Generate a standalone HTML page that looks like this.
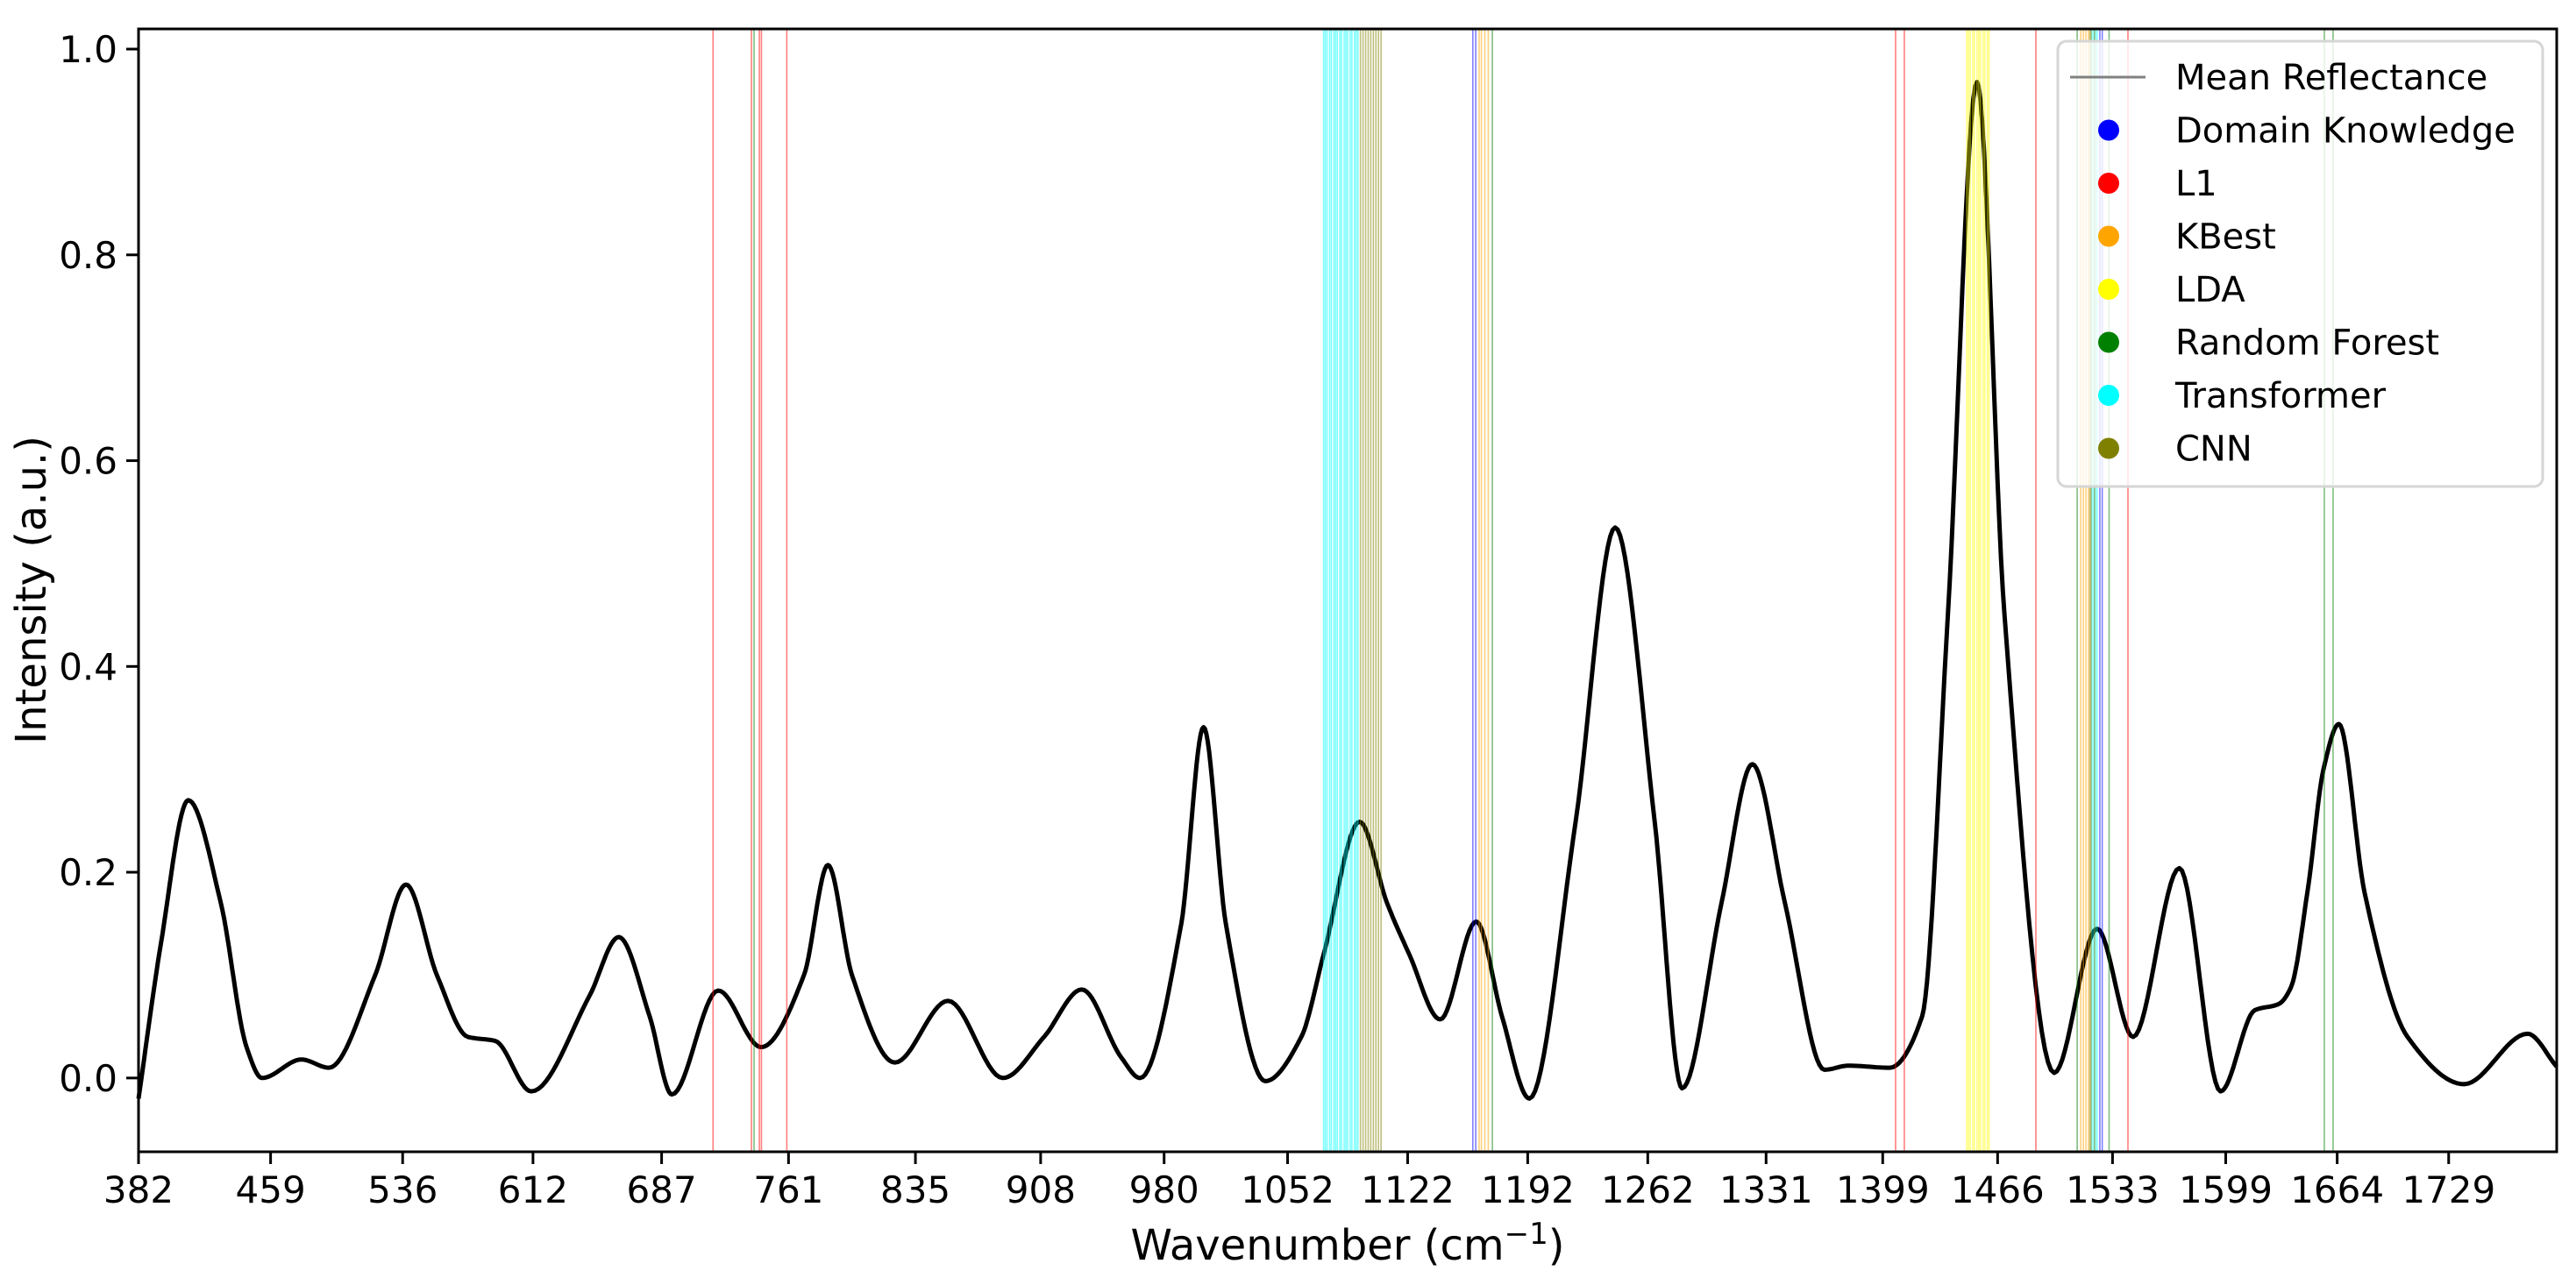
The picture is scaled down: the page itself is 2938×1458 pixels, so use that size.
<!DOCTYPE html>
<html><head><meta charset="utf-8"><style>
html,body{margin:0;padding:0;background:#fff;}
svg{display:block;font-family:"DejaVu Sans","Liberation Sans",sans-serif;}
</style></head><body>
<svg id="chart" width="2938" height="1458" viewBox="0 0 2938 1458" xmlns="http://www.w3.org/2000/svg">
<rect x="0" y="0" width="2938" height="1458" fill="#fff"/>
<g id="plot"></g>
<g id="axes"></g>
<text x="1537" y="1437" font-size="48" text-anchor="middle">Wavenumber (cm<tspan dy="-18" font-size="34">−1</tspan><tspan dy="18">)</tspan></text>
<text x="0" y="0" font-size="48" text-anchor="middle" transform="translate(52,673) rotate(-90)">Intensity (a.u.)</text>
<g id="legend"></g>
</svg>
<script>
// ---- data ----
const specX = [382,395,411,430,445,454,477,493,520,538,556,574,590,611,645,662,680,693,720,745,770,784,798,823,854,886,910,932,955,966,990,1003,1016,1039,1060,1073,1094,1110,1123,1141,1162,1177,1193,1220,1243,1266,1282,1305,1323,1342,1365,1379,1403,1422,1437,1454,1470,1499,1524,1545,1572,1596,1616,1630,1637,1647,1656,1665,1680,1705,1738,1775,1792];
const specY = [-0.02,0.13,0.27,0.17,0.03,0.0,0.018,0.01,0.1,0.188,0.1,0.04,0.036,-0.013,0.08,0.137,0.06,-0.016,0.085,0.03,0.1,0.207,0.1,0.015,0.075,0.0,0.04,0.086,0.02,0.0,0.15,0.341,0.15,-0.003,0.04,0.12,0.249,0.17,0.12,0.057,0.152,0.06,-0.02,0.25,0.535,0.25,-0.01,0.17,0.305,0.17,0.008,0.012,0.01,0.06,0.45,0.968,0.45,0.005,0.145,0.04,0.204,-0.013,0.066,0.072,0.088,0.185,0.30,0.344,0.18,0.04,-0.006,0.043,0.011];
const dkLines = [1160,1161.7,1525.6,1527];
const l1Lines = [717,739.4,744,745.2,760,1406.5,1411.6,1488.3,1542];
const kbestLines = [1163.7,1165,1167,1169,1514.5,1516,1517.5,1519];
const ldaLines = [1448,1449,1450,1451.5,1452.5,1454,1455,1456,1457.5,1458.5,1460,1461];
const rfLines = [740.9,1171.4,1512.4,1531,1656.5,1661.6];
const transLines = [1073,1074,1075,1076.5,1077.5,1079,1080,1081,1082.5,1083.5,1085,1086,1087,1088.5,1089.5,1091,1092,1093,1521,1522,1523,1524];
const cnnLines = [1094.5,1096,1097.5,1099,1100.5,1102,1103.5,1105,1106.5,1519.8,1520.5,1522.5];
const xTicks = [382,459,536,612,687,761,835,908,980,1052,1122,1192,1262,1331,1399,1466,1533,1599,1664,1729];
const yTicks = [0.0,0.2,0.4,0.6,0.8,1.0];
const legendLabels = ["Mean Reflectance","Domain Knowledge","L1","KBest","LDA","Random Forest","Transformer","CNN"];

// ---- axes ----
const L=158,R=2916,T=33,B=1314;
const xMin=382,xMax=1792,yMin=-0.0717,yMax=1.0196;
function sx(v){return L+(v-xMin)/(xMax-xMin)*(R-L);}
function sy(v){return B-(v-yMin)/(yMax-yMin)*(B-T);}
const NS="http://www.w3.org/2000/svg";
function mk(tag,attrs,parent){const e=document.createElementNS(NS,tag);for(const k in attrs)e.setAttribute(k,attrs[k]);parent.appendChild(e);return e;}
const plot=document.getElementById('plot'),axes=document.getElementById('axes'),legend=document.getElementById('legend');

// curve: monotone cubic (PCHIP) through knots
const n=specX.length;
const h=[],del=[];
for(let i=0;i<n-1;i++){h.push(specX[i+1]-specX[i]);del.push((specY[i+1]-specY[i])/h[i]);}
const m=new Array(n).fill(0);
m[0]=del[0];m[n-1]=del[n-2];
for(let i=1;i<n-1;i++){
  if(del[i-1]*del[i]<=0){m[i]=0;}
  else{const w1=2*h[i]+h[i-1],w2=h[i]+2*h[i-1];m[i]=(w1+w2)/(w1/del[i-1]+w2/del[i]);}
}
let d="M"+sx(specX[0]).toFixed(1)+","+sy(specY[0]).toFixed(1);
for(let i=0;i<n-1;i++){
  const steps=16;
  for(let s=1;s<=steps;s++){
    const t=s/steps,t2=t*t,t3=t2*t;
    const y=(2*t3-3*t2+1)*specY[i]+(t3-2*t2+t)*h[i]*m[i]+(-2*t3+3*t2)*specY[i+1]+(t3-t2)*h[i]*m[i+1];
    const x=specX[i]+t*h[i];
    d+=" L"+sx(x).toFixed(1)+","+sy(y).toFixed(1);
  }
}
const curve=mk('path',{d:d,fill:'none',stroke:'#000','stroke-width':5,'stroke-linejoin':'round'},plot);



const groups=[[dkLines,'#0000ff','domain-knowledge-line'],[l1Lines,'#ff0000','l1-line'],[kbestLines,'#ffa500','kbest-line'],[ldaLines,'#ffff00','lda-line'],[rfLines,'#008000','random-forest-line'],[transLines,'#00ffff','transformer-line'],[cnnLines,'#808000','cnn-line']];
groups.forEach(g=>{g[0].forEach(v=>{
  const ln=mk('line',{x1:sx(v),x2:sx(v),y1:T,y2:B,stroke:g[1],'stroke-width':1.6,'stroke-opacity':0.5},plot);
  
  
});});

// spines
const frame=mk('rect',{x:L,y:T,width:R-L,height:B-T,fill:'none',stroke:'#000','stroke-width':3},axes);


xTicks.forEach(v=>{
  const x=sx(v);
  const t=mk('line',{x1:x,x2:x,y1:B,y2:B+14,stroke:'#000','stroke-width':3},axes);
  
  
  const lb=mk('text',{x:x,y:B+58,'font-size':42,'text-anchor':'middle'},axes);
  lb.textContent=v;
  
  
});
yTicks.forEach(v=>{
  const y=sy(v);
  const t=mk('line',{x1:L-14,x2:L,y1:y,y2:y,stroke:'#000','stroke-width':3},axes);
  
  
  const lb=mk('text',{x:L-24,y:y+15,'font-size':42,'text-anchor':'end'},axes);
  lb.textContent=v.toFixed(1);
  
  
});

// legend
const box=mk('rect',{x:2347,y:47,width:553,height:508,rx:10,fill:'#fff','fill-opacity':0.8,stroke:'#d6d6d6','stroke-width':3},legend);


const legColors=['#808080','#0000ff','#ff0000','#ffa500','#ffff00','#008000','#00ffff','#808000'];
legendLabels.forEach((lab,i)=>{
  const y=88+i*60.5;
  if(i===0){
    const s=mk('line',{x1:2361,x2:2447,y1:y,y2:y,stroke:'#808080','stroke-width':3},legend);
    
    
  } else {
    const c=mk('circle',{cx:2405,cy:y,r:12,fill:legColors[i]},legend);
    
    
  }
  const t=mk('text',{x:2481,y:y+14,'font-size':40},legend);
  t.textContent=lab;
  
  
});
</script>
</body></html>
